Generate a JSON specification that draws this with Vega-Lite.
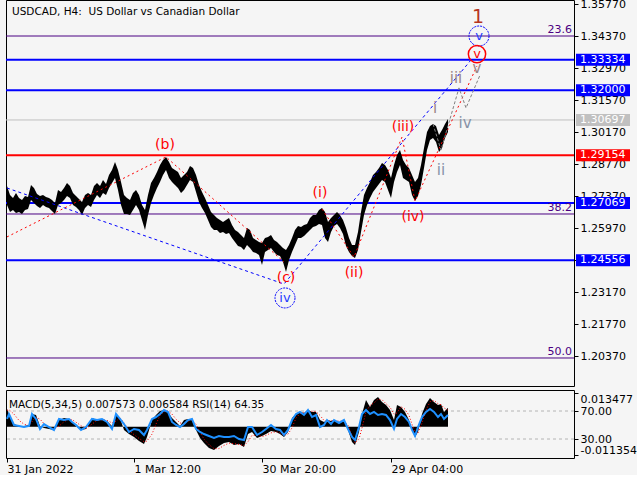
{
  "$schema": "https://vega.github.io/schema/vega-lite/v6.json",
  "background": "#f5f5f5",
  "padding": {"left": 2, "top": -3, "right": 0, "bottom": 0},
  "config": {
    "view": {"stroke": "black", "strokeWidth": 1},
    "font": "DejaVu Sans",
    "axis": {"labelFont": "DejaVu Sans", "labelFontSize": 11, "labelColor": "black", "tickColor": "black", "domainColor": "black", "grid": false, "title": null},
    "text": {"font": "DejaVu Sans"}
  },
  "spacing": 2,
  "resolve": {"scale": {"x": "shared", "y": "independent"}},
  "datasets": {
    "levels": [
      {"price": 1.3437, "kind": "fib", "label": "23.6"},
      {"price": 1.26583, "kind": "fib", "label": "38.2"},
      {"price": 1.20283, "kind": "fib", "label": "50.0"},
      {"price": 1.33334, "kind": "blue", "label": "1.33334"},
      {"price": 1.32, "kind": "blue", "label": "1.32000"},
      {"price": 1.27069, "kind": "blue", "label": "1.27069"},
      {"price": 1.24556, "kind": "blue", "label": "1.24556"},
      {"price": 1.29154, "kind": "red", "label": "1.29154"},
      {"price": 1.30697, "kind": "bid", "label": "1.30697"}
    ],
    "bars": [
      {"t":0,"hi":1.2781,"lo":1.2698},{"t":3,"hi":1.2741,"lo":1.2667},{"t":6,"hi":1.2728,"lo":1.2676},{"t":9,"hi":1.2750,"lo":1.2663},
      {"t":12,"hi":1.2728,"lo":1.2667},{"t":15,"hi":1.2720,"lo":1.2658},{"t":18,"hi":1.2737,"lo":1.2676},{"t":21,"hi":1.2733,"lo":1.2680},
      {"t":24,"hi":1.2785,"lo":1.2720},{"t":27,"hi":1.2772,"lo":1.2706},{"t":30,"hi":1.2746,"lo":1.2693},{"t":33,"hi":1.2737,"lo":1.2684},
      {"t":36,"hi":1.2741,"lo":1.2698},{"t":39,"hi":1.2733,"lo":1.2689},{"t":42,"hi":1.2728,"lo":1.2684},{"t":45,"hi":1.2720,"lo":1.2671},
      {"t":48,"hi":1.2706,"lo":1.2658},{"t":51,"hi":1.2763,"lo":1.2698},{"t":54,"hi":1.2755,"lo":1.2706},{"t":57,"hi":1.2772,"lo":1.2720},
      {"t":60,"hi":1.2794,"lo":1.2737},{"t":63,"hi":1.2781,"lo":1.2728},{"t":66,"hi":1.2750,"lo":1.2698},{"t":69,"hi":1.2737,"lo":1.2689},
      {"t":72,"hi":1.2724,"lo":1.2676},{"t":75,"hi":1.2711,"lo":1.2654},{"t":78,"hi":1.2741,"lo":1.2684},{"t":81,"hi":1.2750,"lo":1.2698},
      {"t":84,"hi":1.2741,"lo":1.2689},{"t":87,"hi":1.2781,"lo":1.2720},{"t":90,"hi":1.2794,"lo":1.2741},{"t":93,"hi":1.2781,"lo":1.2728},
      {"t":96,"hi":1.2807,"lo":1.2750},{"t":99,"hi":1.2790,"lo":1.2741},{"t":102,"hi":1.2829,"lo":1.2772},{"t":105,"hi":1.2851,"lo":1.2794},
      {"t":108,"hi":1.2886,"lo":1.2816},{"t":111,"hi":1.2851,"lo":1.2763},{"t":114,"hi":1.2798,"lo":1.2698},{"t":117,"hi":1.2741,"lo":1.2658},
      {"t":120,"hi":1.2728,"lo":1.2658},{"t":123,"hi":1.2720,"lo":1.2654},{"t":126,"hi":1.2750,"lo":1.2676},{"t":129,"hi":1.2763,"lo":1.2698},
      {"t":132,"hi":1.2741,"lo":1.2676},{"t":135,"hi":1.2698,"lo":1.2632},{"t":138,"hi":1.2676,"lo":1.2588},{"t":141,"hi":1.2741,"lo":1.2654},
      {"t":144,"hi":1.2794,"lo":1.2706},{"t":147,"hi":1.2816,"lo":1.2741},{"t":150,"hi":1.2842,"lo":1.2772},{"t":153,"hi":1.2873,"lo":1.2798},
      {"t":156,"hi":1.2895,"lo":1.2829},{"t":159,"hi":1.2908,"lo":1.2851},{"t":162,"hi":1.2886,"lo":1.2816},{"t":165,"hi":1.2860,"lo":1.2798},
      {"t":168,"hi":1.2851,"lo":1.2785},{"t":171,"hi":1.2842,"lo":1.2772},{"t":174,"hi":1.2816,"lo":1.2750},{"t":177,"hi":1.2829,"lo":1.2763},
      {"t":180,"hi":1.2842,"lo":1.2785},{"t":183,"hi":1.2868,"lo":1.2807},{"t":186,"hi":1.2860,"lo":1.2798},{"t":189,"hi":1.2829,"lo":1.2755},
      {"t":192,"hi":1.2785,"lo":1.2711},{"t":195,"hi":1.2755,"lo":1.2684},{"t":198,"hi":1.2728,"lo":1.2663},{"t":201,"hi":1.2698,"lo":1.2632},
      {"t":204,"hi":1.2667,"lo":1.2601},{"t":207,"hi":1.2654,"lo":1.2588},{"t":210,"hi":1.2641,"lo":1.2588},{"t":213,"hi":1.2632,"lo":1.2575},
      {"t":216,"hi":1.2623,"lo":1.2580},{"t":219,"hi":1.2632,"lo":1.2571},{"t":222,"hi":1.2641,"lo":1.2575},{"t":225,"hi":1.2610,"lo":1.2553},
      {"t":228,"hi":1.2588,"lo":1.2536},{"t":231,"hi":1.2580,"lo":1.2518},{"t":234,"hi":1.2566,"lo":1.2514},{"t":237,"hi":1.2553,"lo":1.2501},
      {"t":240,"hi":1.2597,"lo":1.2523},{"t":243,"hi":1.2588,"lo":1.2510},{"t":246,"hi":1.2553,"lo":1.2492},{"t":249,"hi":1.2545,"lo":1.2488},
      {"t":252,"hi":1.2536,"lo":1.2479},{"t":255,"hi":1.2531,"lo":1.2435},{"t":258,"hi":1.2553,"lo":1.2492},{"t":261,"hi":1.2558,"lo":1.2501},
      {"t":264,"hi":1.2566,"lo":1.2510},{"t":267,"hi":1.2545,"lo":1.2492},{"t":270,"hi":1.2536,"lo":1.2479},{"t":273,"hi":1.2523,"lo":1.2475},
      {"t":276,"hi":1.2510,"lo":1.2448},{"t":279,"hi":1.2501,"lo":1.2405},{"t":282,"hi":1.2523,"lo":1.2457},{"t":285,"hi":1.2553,"lo":1.2492},
      {"t":288,"hi":1.2588,"lo":1.2523},{"t":291,"hi":1.2606,"lo":1.2553},{"t":294,"hi":1.2601,"lo":1.2553},{"t":297,"hi":1.2610,"lo":1.2562},
      {"t":300,"hi":1.2614,"lo":1.2575},{"t":303,"hi":1.2641,"lo":1.2588},{"t":306,"hi":1.2654,"lo":1.2601},{"t":309,"hi":1.2654,"lo":1.2606},
      {"t":312,"hi":1.2676,"lo":1.2614},{"t":315,"hi":1.2684,"lo":1.2610},{"t":318,"hi":1.2667,"lo":1.2553},{"t":321,"hi":1.2623,"lo":1.2536},
      {"t":324,"hi":1.2641,"lo":1.2580},{"t":327,"hi":1.2654,"lo":1.2606},{"t":330,"hi":1.2667,"lo":1.2614},{"t":333,"hi":1.2654,"lo":1.2597},
      {"t":336,"hi":1.2632,"lo":1.2571},{"t":339,"hi":1.2597,"lo":1.2518},{"t":342,"hi":1.2553,"lo":1.2492},{"t":345,"hi":1.2523,"lo":1.2475},
      {"t":348,"hi":1.2523,"lo":1.2466},{"t":351,"hi":1.2580,"lo":1.2501},{"t":354,"hi":1.2667,"lo":1.2580},{"t":357,"hi":1.2741,"lo":1.2654},
      {"t":360,"hi":1.2772,"lo":1.2698},{"t":363,"hi":1.2798,"lo":1.2728},{"t":366,"hi":1.2829,"lo":1.2755},{"t":369,"hi":1.2842,"lo":1.2772},
      {"t":372,"hi":1.2860,"lo":1.2790},{"t":375,"hi":1.2881,"lo":1.2807},{"t":378,"hi":1.2873,"lo":1.2798},{"t":381,"hi":1.2851,"lo":1.2763},
      {"t":384,"hi":1.2816,"lo":1.2728},{"t":387,"hi":1.2873,"lo":1.2798},{"t":390,"hi":1.2916,"lo":1.2842},{"t":393,"hi":1.2938,"lo":1.2873},
      {"t":396,"hi":1.2895,"lo":1.2816},{"t":399,"hi":1.2873,"lo":1.2807},{"t":402,"hi":1.2860,"lo":1.2798},{"t":405,"hi":1.2829,"lo":1.2741},
      {"t":408,"hi":1.2798,"lo":1.2715},{"t":411,"hi":1.2816,"lo":1.2737},{"t":414,"hi":1.2873,"lo":1.2785},{"t":417,"hi":1.2947,"lo":1.2860},
      {"t":420,"hi":1.3017,"lo":1.2938},{"t":423,"hi":1.3043,"lo":1.2982},{"t":426,"hi":1.3052,"lo":1.2991},{"t":429,"hi":1.3043,"lo":1.2973},
      {"t":432,"hi":1.3004,"lo":1.2930},{"t":435,"hi":1.3026,"lo":1.2947},{"t":438,"hi":1.3052,"lo":1.2991},{"t":441,"hi":1.3074,"lo":1.3017}
    ],
    "waves": [
      {"w":"blue","t":0,"p":1.2772},{"w":"blue","t":277,"p":1.2352},{"w":"blue","t":464,"p":1.3332},
      {"w":"red1","t":0,"p":1.2558},{"w":"red1","t":159,"p":1.2908},{"w":"red1","t":277,"p":1.2448},
      {"w":"red2","t":315,"p":1.2680},{"w":"red2","t":347,"p":1.2470},{"w":"red2","t":395,"p":1.2995},{"w":"red2","t":408,"p":1.2715},{"w":"red2","t":470,"p":1.3306},
      {"w":"grey","t":426,"p":1.3052},{"w":"grey","t":434,"p":1.2938},{"w":"grey","t":452,"p":1.3210},{"w":"grey","t":459,"p":1.3122},{"w":"grey","t":473,"p":1.3266}
    ],
    "labels": [
      {"kind":"red","t":158,"p":1.2960,"txt":"(b)"},
      {"kind":"red","t":279,"p":1.2378,"txt":"(c)"},
      {"kind":"red","t":313,"p":1.2750,"txt":"(i)"},
      {"kind":"red","t":347,"p":1.2400,"txt":"(ii)"},
      {"kind":"red","t":396,"p":1.3039,"txt":"(iii)"},
      {"kind":"red","t":406,"p":1.2645,"txt":"(iv)"},
      {"kind":"redc","t":470,"p":1.3358,"txt":"v"},
      {"kind":"bluec","t":472,"p":1.3437,"txt":"v"},
      {"kind":"bluec","t":278,"p":1.2291,"txt":"iv"},
      {"kind":"mauve","t":428,"p":1.3122,"txt":"i"},
      {"kind":"mauve","t":449,"p":1.3253,"txt":"iii"},
      {"kind":"mauve","t":470,"p":1.3298,"txt":"v"},
      {"kind":"slate","t":458,"p":1.3056,"txt":"iv"},
      {"kind":"slate","t":434,"p":1.2851,"txt":"ii"},
      {"kind":"one","t":471,"p":1.3520,"txt":"1"}
    ],
    "circles": [
      {"t":472,"p":1.3437,"c":"blue"},
      {"t":278,"p":1.2291,"c":"blue"},
      {"t":470,"p":1.3358,"c":"red"}
    ],
    "ind": [
      {"t":0,"rsi":58.6,"macd":0.00705,"sig":0.0065},{"t":2,"rsi":65.7,"macd":0.00505,"sig":0.0068},{"t":7,"rsi":50.0,"macd":0.00104,"sig":0.0050},
      {"t":12,"rsi":48.6,"macd":0.00024,"sig":0.0025},{"t":17,"rsi":47.1,"macd":0.00024,"sig":0.0010},{"t":22,"rsi":48.6,"macd":0.00064,"sig":0.0004},
      {"t":25,"rsi":65.7,"macd":0.00505,"sig":0.0020},{"t":29,"rsi":58.6,"macd":0.00465,"sig":0.0038},{"t":33,"rsi":44.3,"macd":0.00024,"sig":0.0030},
      {"t":37,"rsi":51.4,"macd":-0.00056,"sig":0.0012},{"t":42,"rsi":47.1,"macd":-0.00096,"sig":-0.0002},{"t":47,"rsi":42.9,"macd":-0.00136,"sig":-0.0010},
      {"t":52,"rsi":58.6,"macd":0.00264,"sig":0.0002},{"t":57,"rsi":57.1,"macd":0.00344,"sig":0.0020},{"t":62,"rsi":58.6,"macd":0.00304,"sig":0.0030},
      {"t":65,"rsi":54.3,"macd":0.00184,"sig":0.0028},{"t":69,"rsi":50.0,"macd":0.00024,"sig":0.0018},{"t":74,"rsi":42.9,"macd":-0.00136,"sig":0.0004},
      {"t":79,"rsi":47.1,"macd":-0.00096,"sig":-0.0008},{"t":85,"rsi":58.6,"macd":0.00344,"sig":0.0010},{"t":90,"rsi":57.1,"macd":0.00264,"sig":0.0025},
      {"t":95,"rsi":58.6,"macd":0.00264,"sig":0.0028},{"t":100,"rsi":54.3,"macd":0.00224,"sig":0.0025},{"t":105,"rsi":44.3,"macd":0.00024,"sig":0.0015},
      {"t":109,"rsi":65.7,"macd":0.00465,"sig":0.0022},{"t":113,"rsi":58.6,"macd":0.00344,"sig":0.0035},{"t":117,"rsi":51.4,"macd":-0.00136,"sig":0.0015},
      {"t":122,"rsi":40.0,"macd":-0.00296,"sig":-0.0015},{"t":127,"rsi":44.3,"macd":-0.00417,"sig":-0.0032},{"t":132,"rsi":42.9,"macd":-0.00577,"sig":-0.0047},
      {"t":137,"rsi":35.7,"macd":-0.00697,"sig":-0.0060},{"t":140,"rsi":42.9,"macd":-0.00417,"sig":-0.0058},{"t":145,"rsi":58.6,"macd":0.00264,"sig":-0.0030},
      {"t":149,"rsi":61.4,"macd":0.00465,"sig":0.0010},{"t":153,"rsi":65.7,"macd":0.00625,"sig":0.0045},{"t":157,"rsi":71.4,"macd":0.00665,"sig":0.0060},
      {"t":161,"rsi":68.6,"macd":0.00585,"sig":0.0063},{"t":165,"rsi":54.3,"macd":0.00344,"sig":0.0050},{"t":169,"rsi":50.0,"macd":0.00184,"sig":0.0030},
      {"t":173,"rsi":47.1,"macd":0.00024,"sig":0.0015},{"t":177,"rsi":51.4,"macd":0.00264,"sig":0.0012},{"t":181,"rsi":57.1,"macd":0.00304,"sig":0.0022},
      {"t":185,"rsi":58.6,"macd":0.00264,"sig":0.0027},{"t":189,"rsi":44.3,"macd":-0.00136,"sig":0.0010},{"t":193,"rsi":40.0,"macd":-0.00457,"sig":-0.0022},
      {"t":197,"rsi":37.1,"macd":-0.00657,"sig":-0.0050},{"t":202,"rsi":34.3,"macd":-0.00857,"sig":-0.0072},{"t":207,"rsi":31.4,"macd":-0.00937,"sig":-0.0088},
      {"t":212,"rsi":34.3,"macd":-0.00777,"sig":-0.0088},{"t":217,"rsi":32.9,"macd":-0.00657,"sig":-0.0075},{"t":222,"rsi":32.9,"macd":-0.00617,"sig":-0.0066},
      {"t":227,"rsi":34.3,"macd":-0.00737,"sig":-0.0068},{"t":232,"rsi":30.0,"macd":-0.00697,"sig":-0.0071},{"t":237,"rsi":28.6,"macd":-0.00817,"sig":-0.0076},
      {"t":241,"rsi":47.1,"macd":-0.00296,"sig":-0.0060},{"t":245,"rsi":47.1,"macd":-0.00216,"sig":-0.0035},{"t":250,"rsi":35.7,"macd":-0.00457,"sig":-0.0035},
      {"t":255,"rsi":40.0,"macd":-0.00376,"sig":-0.0040},{"t":259,"rsi":44.3,"macd":-0.00296,"sig":-0.0035},{"t":264,"rsi":50.0,"macd":-0.00176,"sig":-0.0025},
      {"t":269,"rsi":44.3,"macd":-0.00216,"sig":-0.0020},{"t":273,"rsi":42.9,"macd":-0.00296,"sig":-0.0025},{"t":277,"rsi":35.7,"macd":-0.00417,"sig":-0.0034},
      {"t":281,"rsi":42.9,"macd":-0.00216,"sig":-0.0030},{"t":285,"rsi":57.1,"macd":0.00344,"sig":-0.0005},{"t":289,"rsi":65.7,"macd":0.00505,"sig":0.0035},
      {"t":293,"rsi":68.6,"macd":0.00585,"sig":0.0052},{"t":297,"rsi":64.3,"macd":0.00545,"sig":0.0056},{"t":301,"rsi":71.4,"macd":0.00665,"sig":0.0060},
      {"t":305,"rsi":61.4,"macd":0.00585,"sig":0.0062},{"t":309,"rsi":64.3,"macd":0.00585,"sig":0.0060},{"t":313,"rsi":47.1,"macd":0.00264,"sig":0.0045},
      {"t":317,"rsi":50.0,"macd":0.00184,"sig":0.0025},{"t":320,"rsi":57.1,"macd":0.00264,"sig":0.0022},{"t":324,"rsi":51.4,"macd":0.00224,"sig":0.0024},
      {"t":327,"rsi":57.1,"macd":0.00264,"sig":0.0024},{"t":332,"rsi":52.9,"macd":0.00184,"sig":0.0022},{"t":337,"rsi":57.1,"macd":0.00264,"sig":0.0022},
      {"t":341,"rsi":44.3,"macd":-0.00136,"sig":0.0005},{"t":345,"rsi":32.9,"macd":-0.00617,"sig":-0.0035},{"t":348,"rsi":28.6,"macd":-0.00737,"sig":-0.0065},
      {"t":352,"rsi":47.1,"macd":-0.00216,"sig":-0.0050},{"t":355,"rsi":65.7,"macd":0.00505,"sig":-0.0005},{"t":359,"rsi":71.4,"macd":0.01065,"sig":0.0060},
      {"t":363,"rsi":65.7,"macd":0.00785,"sig":0.0085},{"t":367,"rsi":68.6,"macd":0.01065,"sig":0.0095},{"t":371,"rsi":64.3,"macd":0.01185,"sig":0.0110},
      {"t":375,"rsi":65.7,"macd":0.00985,"sig":0.0108},{"t":379,"rsi":64.3,"macd":0.00865,"sig":0.0092},{"t":383,"rsi":57.1,"macd":0.00665,"sig":0.0078},
      {"t":387,"rsi":44.3,"macd":0.00264,"sig":0.0050},{"t":390,"rsi":58.6,"macd":0.00865,"sig":0.0055},{"t":394,"rsi":65.7,"macd":0.00785,"sig":0.0080},
      {"t":398,"rsi":61.4,"macd":0.00585,"sig":0.0070},{"t":402,"rsi":54.3,"macd":0.00264,"sig":0.0045},{"t":405,"rsi":42.9,"macd":-0.00136,"sig":0.0010},
      {"t":408,"rsi":34.3,"macd":-0.00417,"sig":-0.0025},{"t":411,"rsi":47.1,"macd":-0.00216,"sig":-0.0025},{"t":415,"rsi":61.4,"macd":0.00505,"sig":0.0015},
      {"t":419,"rsi":68.6,"macd":0.00905,"sig":0.0065},{"t":423,"rsi":72.9,"macd":0.01145,"sig":0.0100},{"t":427,"rsi":68.6,"macd":0.00985,"sig":0.0105},
      {"t":431,"rsi":61.4,"macd":0.00865,"sig":0.0092},{"t":434,"rsi":65.7,"macd":0.00905,"sig":0.0088},{"t":437,"rsi":58.6,"macd":0.00585,"sig":0.0075},
      {"t":441,"rsi":64.35,"macd":0.007573,"sig":0.006584}
    ]
  },
  "vconcat": [
    {
      "width": 568,
      "height": 386,
      "layer": [
        {
          "data": {"name": "levels"},
          "transform": [{"filter": "datum.kind == 'fib'"}],
          "mark": {"type": "rule", "color": "#4b0082", "strokeWidth": 1},
          "encoding": {
            "y": {"field": "price", "type": "quantitative", "scale": {"domain": [1.19058, 1.35945], "nice": false, "zero": false},
              "axis": {"orient": "right", "values": [1.3577, 1.3437, 1.3297, 1.3157, 1.3017, 1.2877, 1.2737, 1.2597, 1.2457, 1.2317, 1.2177, 1.2037], "format": ".5f", "tickSize": 4, "labelPadding": 2, "domain": false, "labelOverlap": false, "labelFlush": false, "labelBound": false}}
          }
        },
        {
          "data": {"name": "levels"},
          "transform": [{"filter": "datum.kind == 'bid'"}],
          "mark": {"type": "rule", "color": "#c0c0c0", "strokeWidth": 1},
          "encoding": {
            "y": {"field": "price", "type": "quantitative", "scale": {"domain": [1.19058, 1.35945], "nice": false, "zero": false},
              "axis": {"orient": "right", "values": [1.3577, 1.3437, 1.3297, 1.3157, 1.3017, 1.2877, 1.2737, 1.2597, 1.2457, 1.2317, 1.2177, 1.2037], "format": ".5f", "tickSize": 4, "labelPadding": 2, "domain": false, "labelOverlap": false, "labelFlush": false, "labelBound": false}}
          }
        },
        {
          "data": {"name": "levels"},
          "transform": [{"filter": "datum.kind == 'blue'"}],
          "mark": {"type": "rule", "color": "#0000ff", "strokeWidth": 2},
          "encoding": {
            "y": {"field": "price", "type": "quantitative", "scale": {"domain": [1.19058, 1.35945], "nice": false, "zero": false},
              "axis": {"orient": "right", "values": [1.3577, 1.3437, 1.3297, 1.3157, 1.3017, 1.2877, 1.2737, 1.2597, 1.2457, 1.2317, 1.2177, 1.2037], "format": ".5f", "tickSize": 4, "labelPadding": 2, "domain": false, "labelOverlap": false, "labelFlush": false, "labelBound": false}}
          }
        },
        {
          "data": {"name": "levels"},
          "transform": [{"filter": "datum.kind == 'red'"}],
          "mark": {"type": "rule", "color": "#ff0000", "strokeWidth": 2},
          "encoding": {
            "y": {"field": "price", "type": "quantitative", "scale": {"domain": [1.19058, 1.35945], "nice": false, "zero": false},
              "axis": {"orient": "right", "values": [1.3577, 1.3437, 1.3297, 1.3157, 1.3017, 1.2877, 1.2737, 1.2597, 1.2457, 1.2317, 1.2177, 1.2037], "format": ".5f", "tickSize": 4, "labelPadding": 2, "domain": false, "labelOverlap": false, "labelFlush": false, "labelBound": false}}
          }
        },
        {
          "data": {"name": "bars"},
          "mark": {"type": "area", "color": "black", "strokeWidth": 0},
          "encoding": {
            "x": {"field": "t", "type": "quantitative", "scale": {"domain": [-1, 567], "nice": false, "zero": false}, "axis": null},
            "y": {"field": "lo", "type": "quantitative", "scale": {"domain": [1.19058, 1.35945], "nice": false, "zero": false},
              "axis": {"orient": "right", "values": [1.3577, 1.3437, 1.3297, 1.3157, 1.3017, 1.2877, 1.2737, 1.2597, 1.2457, 1.2317, 1.2177, 1.2037], "format": ".5f", "tickSize": 4, "labelPadding": 2, "domain": false, "labelOverlap": false, "labelFlush": false, "labelBound": false}},
            "y2": {"field": "hi"}
          }
        },
        {
          "data": {"name": "waves"},
          "transform": [{"filter": "datum.w == 'blue'"}],
          "mark": {"type": "line", "color": "#0000ff", "strokeWidth": 1, "strokeDash": [3, 3]},
          "encoding": {
            "x": {"field": "t", "type": "quantitative", "scale": {"domain": [-1, 567], "nice": false, "zero": false}, "axis": null},
            "y": {"field": "p", "type": "quantitative", "scale": {"domain": [1.19058, 1.35945], "nice": false, "zero": false},
              "axis": {"orient": "right", "values": [1.3577, 1.3437, 1.3297, 1.3157, 1.3017, 1.2877, 1.2737, 1.2597, 1.2457, 1.2317, 1.2177, 1.2037], "format": ".5f", "tickSize": 4, "labelPadding": 2, "domain": false, "labelOverlap": false, "labelFlush": false, "labelBound": false}}
          }
        },
        {
          "data": {"name": "waves"},
          "transform": [{"filter": "datum.w == 'red1' || datum.w == 'red2'"}],
          "mark": {"type": "line", "color": "#ff0000", "strokeWidth": 1, "strokeDash": [2, 3]},
          "encoding": {
            "x": {"field": "t", "type": "quantitative", "scale": {"domain": [-1, 567], "nice": false, "zero": false}, "axis": null},
            "y": {"field": "p", "type": "quantitative", "scale": {"domain": [1.19058, 1.35945], "nice": false, "zero": false},
              "axis": {"orient": "right", "values": [1.3577, 1.3437, 1.3297, 1.3157, 1.3017, 1.2877, 1.2737, 1.2597, 1.2457, 1.2317, 1.2177, 1.2037], "format": ".5f", "tickSize": 4, "labelPadding": 2, "domain": false, "labelOverlap": false, "labelFlush": false, "labelBound": false}},
            "detail": {"field": "w"}
          }
        },
        {
          "data": {"name": "waves"},
          "transform": [{"filter": "datum.w == 'grey'"}],
          "mark": {"type": "line", "color": "#808080", "strokeWidth": 1, "strokeDash": [3, 2]},
          "encoding": {
            "x": {"field": "t", "type": "quantitative", "scale": {"domain": [-1, 567], "nice": false, "zero": false}, "axis": null},
            "y": {"field": "p", "type": "quantitative", "scale": {"domain": [1.19058, 1.35945], "nice": false, "zero": false},
              "axis": {"orient": "right", "values": [1.3577, 1.3437, 1.3297, 1.3157, 1.3017, 1.2877, 1.2737, 1.2597, 1.2457, 1.2317, 1.2177, 1.2037], "format": ".5f", "tickSize": 4, "labelPadding": 2, "domain": false, "labelOverlap": false, "labelFlush": false, "labelBound": false}}
          }
        },
        {
          "data": {"name": "circles"},
          "transform": [{"filter": "datum.c == 'blue'"}],
          "mark": {"type": "point", "shape": "circle", "filled": false, "color": "#0000ff", "strokeWidth": 1, "strokeDash": [2, 1], "size": 400, "opacity": 1},
          "encoding": {
            "x": {"field": "t", "type": "quantitative", "scale": {"domain": [-1, 567], "nice": false, "zero": false}, "axis": null},
            "y": {"field": "p", "type": "quantitative", "scale": {"domain": [1.19058, 1.35945], "nice": false, "zero": false},
              "axis": {"orient": "right", "values": [1.3577, 1.3437, 1.3297, 1.3157, 1.3017, 1.2877, 1.2737, 1.2597, 1.2457, 1.2317, 1.2177, 1.2037], "format": ".5f", "tickSize": 4, "labelPadding": 2, "domain": false, "labelOverlap": false, "labelFlush": false, "labelBound": false}}
          }
        },
        {
          "data": {"name": "circles"},
          "transform": [{"filter": "datum.c == 'red'"}],
          "mark": {"type": "point", "shape": "circle", "filled": false, "color": "#ff0000", "strokeWidth": 1.5, "size": 300, "opacity": 1},
          "encoding": {
            "x": {"field": "t", "type": "quantitative", "scale": {"domain": [-1, 567], "nice": false, "zero": false}, "axis": null},
            "y": {"field": "p", "type": "quantitative", "scale": {"domain": [1.19058, 1.35945], "nice": false, "zero": false},
              "axis": {"orient": "right", "values": [1.3577, 1.3437, 1.3297, 1.3157, 1.3017, 1.2877, 1.2737, 1.2597, 1.2457, 1.2317, 1.2177, 1.2037], "format": ".5f", "tickSize": 4, "labelPadding": 2, "domain": false, "labelOverlap": false, "labelFlush": false, "labelBound": false}}
          }
        },
        {
          "data": {"name": "labels"},
          "transform": [{"filter": "datum.kind == 'red'"}],
          "mark": {"type": "text", "align": "center", "baseline": "middle", "color": "#ff0000", "fontSize": 14},
          "encoding": {
            "x": {"field": "t", "type": "quantitative", "scale": {"domain": [-1, 567], "nice": false, "zero": false}, "axis": null},
            "y": {"field": "p", "type": "quantitative", "scale": {"domain": [1.19058, 1.35945], "nice": false, "zero": false},
              "axis": {"orient": "right", "values": [1.3577, 1.3437, 1.3297, 1.3157, 1.3017, 1.2877, 1.2737, 1.2597, 1.2457, 1.2317, 1.2177, 1.2037], "format": ".5f", "tickSize": 4, "labelPadding": 2, "domain": false, "labelOverlap": false, "labelFlush": false, "labelBound": false}},
            "text": {"field": "txt"}
          }
        },
        {
          "data": {"name": "labels"},
          "transform": [{"filter": "datum.kind == 'redc'"}],
          "mark": {"type": "text", "align": "center", "baseline": "middle", "color": "#ff0000", "fontSize": 13},
          "encoding": {
            "x": {"field": "t", "type": "quantitative", "scale": {"domain": [-1, 567], "nice": false, "zero": false}, "axis": null},
            "y": {"field": "p", "type": "quantitative", "scale": {"domain": [1.19058, 1.35945], "nice": false, "zero": false},
              "axis": {"orient": "right", "values": [1.3577, 1.3437, 1.3297, 1.3157, 1.3017, 1.2877, 1.2737, 1.2597, 1.2457, 1.2317, 1.2177, 1.2037], "format": ".5f", "tickSize": 4, "labelPadding": 2, "domain": false, "labelOverlap": false, "labelFlush": false, "labelBound": false}},
            "text": {"field": "txt"}
          }
        },
        {
          "data": {"name": "labels"},
          "transform": [{"filter": "datum.kind == 'bluec'"}],
          "mark": {"type": "text", "align": "center", "baseline": "middle", "color": "#1e3cff", "fontSize": 13},
          "encoding": {
            "x": {"field": "t", "type": "quantitative", "scale": {"domain": [-1, 567], "nice": false, "zero": false}, "axis": null},
            "y": {"field": "p", "type": "quantitative", "scale": {"domain": [1.19058, 1.35945], "nice": false, "zero": false},
              "axis": {"orient": "right", "values": [1.3577, 1.3437, 1.3297, 1.3157, 1.3017, 1.2877, 1.2737, 1.2597, 1.2457, 1.2317, 1.2177, 1.2037], "format": ".5f", "tickSize": 4, "labelPadding": 2, "domain": false, "labelOverlap": false, "labelFlush": false, "labelBound": false}},
            "text": {"field": "txt"}
          }
        },
        {
          "data": {"name": "labels"},
          "transform": [{"filter": "datum.kind == 'mauve'"}],
          "mark": {"type": "text", "align": "center", "baseline": "middle", "color": "#9c8686", "fontSize": 15},
          "encoding": {
            "x": {"field": "t", "type": "quantitative", "scale": {"domain": [-1, 567], "nice": false, "zero": false}, "axis": null},
            "y": {"field": "p", "type": "quantitative", "scale": {"domain": [1.19058, 1.35945], "nice": false, "zero": false},
              "axis": {"orient": "right", "values": [1.3577, 1.3437, 1.3297, 1.3157, 1.3017, 1.2877, 1.2737, 1.2597, 1.2457, 1.2317, 1.2177, 1.2037], "format": ".5f", "tickSize": 4, "labelPadding": 2, "domain": false, "labelOverlap": false, "labelFlush": false, "labelBound": false}},
            "text": {"field": "txt"}
          }
        },
        {
          "data": {"name": "labels"},
          "transform": [{"filter": "datum.kind == 'slate'"}],
          "mark": {"type": "text", "align": "center", "baseline": "middle", "color": "#8893a8", "fontSize": 15},
          "encoding": {
            "x": {"field": "t", "type": "quantitative", "scale": {"domain": [-1, 567], "nice": false, "zero": false}, "axis": null},
            "y": {"field": "p", "type": "quantitative", "scale": {"domain": [1.19058, 1.35945], "nice": false, "zero": false},
              "axis": {"orient": "right", "values": [1.3577, 1.3437, 1.3297, 1.3157, 1.3017, 1.2877, 1.2737, 1.2597, 1.2457, 1.2317, 1.2177, 1.2037], "format": ".5f", "tickSize": 4, "labelPadding": 2, "domain": false, "labelOverlap": false, "labelFlush": false, "labelBound": false}},
            "text": {"field": "txt"}
          }
        },
        {
          "data": {"name": "labels"},
          "transform": [{"filter": "datum.kind == 'one'"}],
          "mark": {"type": "text", "align": "center", "baseline": "middle", "color": "#b5341f", "fontSize": 19},
          "encoding": {
            "x": {"field": "t", "type": "quantitative", "scale": {"domain": [-1, 567], "nice": false, "zero": false}, "axis": null},
            "y": {"field": "p", "type": "quantitative", "scale": {"domain": [1.19058, 1.35945], "nice": false, "zero": false},
              "axis": {"orient": "right", "values": [1.3577, 1.3437, 1.3297, 1.3157, 1.3017, 1.2877, 1.2737, 1.2597, 1.2457, 1.2317, 1.2177, 1.2037], "format": ".5f", "tickSize": 4, "labelPadding": 2, "domain": false, "labelOverlap": false, "labelFlush": false, "labelBound": false}},
            "text": {"field": "txt"}
          }
        },
        {
          "data": {"name": "levels"},
          "transform": [{"filter": "datum.kind == 'fib'"}],
          "mark": {"type": "text", "align": "right", "baseline": "bottom", "dy": -1, "color": "#4b0082", "fontSize": 11},
          "encoding": {
            "x": {"datum": 565, "type": "quantitative", "scale": {"domain": [-1, 567], "nice": false, "zero": false}, "axis": null},
            "y": {"field": "price", "type": "quantitative", "scale": {"domain": [1.19058, 1.35945], "nice": false, "zero": false},
              "axis": {"orient": "right", "values": [1.3577, 1.3437, 1.3297, 1.3157, 1.3017, 1.2877, 1.2737, 1.2597, 1.2457, 1.2317, 1.2177, 1.2037], "format": ".5f", "tickSize": 4, "labelPadding": 2, "domain": false, "labelOverlap": false, "labelFlush": false, "labelBound": false}},
            "text": {"field": "label"}
          }
        },
        {
          "data": {"name": "levels"},
          "transform": [{"filter": "datum.kind != 'fib'"}],
          "mark": {"type": "tick", "orient": "horizontal", "size": 54, "thickness": 12, "opacity": 1},
          "encoding": {
            "x": {"datum": 596, "type": "quantitative", "scale": {"domain": [-1, 567], "nice": false, "zero": false}, "axis": null},
            "y": {"field": "price", "type": "quantitative", "scale": {"domain": [1.19058, 1.35945], "nice": false, "zero": false},
              "axis": {"orient": "right", "values": [1.3577, 1.3437, 1.3297, 1.3157, 1.3017, 1.2877, 1.2737, 1.2597, 1.2457, 1.2317, 1.2177, 1.2037], "format": ".5f", "tickSize": 4, "labelPadding": 2, "domain": false, "labelOverlap": false, "labelFlush": false, "labelBound": false}},
            "color": {"field": "kind", "type": "nominal", "scale": {"domain": ["blue", "red", "bid"], "range": ["#0000ff", "#ff0000", "#c0c0c0"]}, "legend": null}
          }
        },
        {
          "data": {"name": "levels"},
          "transform": [{"filter": "datum.kind != 'fib'"}],
          "mark": {"type": "text", "align": "left", "baseline": "middle", "color": "white", "fontSize": 11},
          "encoding": {
            "x": {"datum": 573, "type": "quantitative", "scale": {"domain": [-1, 567], "nice": false, "zero": false}, "axis": null},
            "y": {"field": "price", "type": "quantitative", "scale": {"domain": [1.19058, 1.35945], "nice": false, "zero": false},
              "axis": {"orient": "right", "values": [1.3577, 1.3437, 1.3297, 1.3157, 1.3017, 1.2877, 1.2737, 1.2597, 1.2457, 1.2317, 1.2177, 1.2037], "format": ".5f", "tickSize": 4, "labelPadding": 2, "domain": false, "labelOverlap": false, "labelFlush": false, "labelBound": false}},
            "text": {"field": "label"}
          }
        },
        {
          "data": {"values": [{"txt": "USDCAD, H4:\u00a0 US Dollar vs Canadian Dollar", "t": 5, "p": 1.3542}]},
          "mark": {"type": "text", "align": "left", "baseline": "middle", "color": "black", "fontSize": 10.5},
          "encoding": {
            "x": {"field": "t", "type": "quantitative", "scale": {"domain": [-1, 567], "nice": false, "zero": false}, "axis": null},
            "y": {"field": "p", "type": "quantitative", "scale": {"domain": [1.19058, 1.35945], "nice": false, "zero": false},
              "axis": {"orient": "right", "values": [1.3577, 1.3437, 1.3297, 1.3157, 1.3017, 1.2877, 1.2737, 1.2597, 1.2457, 1.2317, 1.2177, 1.2037], "format": ".5f", "tickSize": 4, "labelPadding": 2, "domain": false, "labelOverlap": false, "labelFlush": false, "labelBound": false}},
            "text": {"field": "txt"}
          }
        }
      ]
    },
    {
      "width": 568,
      "height": 68,
      "resolve": {"scale": {"y": "independent"}},
      "layer": [
        {
          "data": {"values": [{"lvl": 70}, {"lvl": 30}]},
          "mark": {"type": "rule", "color": "#b4b4b4", "strokeDash": [3, 3], "strokeWidth": 1},
          "encoding": {
            "y": {"field": "lvl", "type": "quantitative", "scale": {"domain": [2.86, 100], "nice": false, "zero": false},
              "axis": {"orient": "right", "values": [95.71, 70, 30, 7.14], "labelExpr": "datum.value > 90 ? '0.013477' : (datum.value < 10 ? '-0.011354' : format(datum.value, '.2f'))", "tickSize": 4, "labelPadding": 2, "domain": false, "labelFlush": 4, "labelOverlap": false}}
          }
        },
        {
          "data": {"name": "ind"},
          "mark": {"type": "area", "color": "black"},
          "encoding": {
            "x": {"field": "t", "type": "quantitative", "scale": {"domain": [-1, 567], "nice": false, "zero": false},
              "axis": {"orient": "bottom", "values": [0, 127, 255, 384], "labelExpr": "datum.value == 0 ? '31 Jan 2022' : (datum.value == 127 ? '1 Mar 12:00' : (datum.value == 255 ? '30 Mar 20:00' : '29 Apr 04:00'))", "labelAlign": "left", "tickSize": 4, "labelPadding": 1, "domain": false, "labelFlush": false, "labelOverlap": false, "labelBound": false}},
            "y": {"field": "macd", "type": "quantitative", "scale": {"domain": [-0.012556, 0.014679], "nice": false, "zero": false}, "axis": null},
            "y2": {"datum": 0}
          }
        },
        {
          "data": {"name": "ind"},
          "mark": {"type": "line", "color": "#ff0000", "strokeWidth": 1, "strokeDash": [1, 2]},
          "encoding": {
            "x": {"field": "t", "type": "quantitative", "scale": {"domain": [-1, 567], "nice": false, "zero": false},
              "axis": {"orient": "bottom", "values": [0, 127, 255, 384], "labelExpr": "datum.value == 0 ? '31 Jan 2022' : (datum.value == 127 ? '1 Mar 12:00' : (datum.value == 255 ? '30 Mar 20:00' : '29 Apr 04:00'))", "labelAlign": "left", "tickSize": 4, "labelPadding": 1, "domain": false, "labelFlush": false, "labelOverlap": false, "labelBound": false}},
            "y": {"field": "sig", "type": "quantitative", "scale": {"domain": [-0.012556, 0.014679], "nice": false, "zero": false}, "axis": null}
          }
        },
        {
          "data": {"name": "ind"},
          "mark": {"type": "line", "color": "#1e90ff", "strokeWidth": 2},
          "encoding": {
            "x": {"field": "t", "type": "quantitative", "scale": {"domain": [-1, 567], "nice": false, "zero": false},
              "axis": {"orient": "bottom", "values": [0, 127, 255, 384], "labelExpr": "datum.value == 0 ? '31 Jan 2022' : (datum.value == 127 ? '1 Mar 12:00' : (datum.value == 255 ? '30 Mar 20:00' : '29 Apr 04:00'))", "labelAlign": "left", "tickSize": 4, "labelPadding": 1, "domain": false, "labelFlush": false, "labelOverlap": false, "labelBound": false}},
            "y": {"field": "rsi", "type": "quantitative", "scale": {"domain": [2.86, 100], "nice": false, "zero": false}, "axis": null}
          }
        },
        {
          "data": {"values": [{"txt": "MACD(5,34,5) 0.007573 0.006584 RSI(14) 64.35", "t": 2, "v": 78.6}]},
          "mark": {"type": "text", "align": "left", "baseline": "middle", "color": "black", "fontSize": 10.5},
          "encoding": {
            "x": {"field": "t", "type": "quantitative", "scale": {"domain": [-1, 567], "nice": false, "zero": false},
              "axis": {"orient": "bottom", "values": [0, 127, 255, 384], "labelExpr": "datum.value == 0 ? '31 Jan 2022' : (datum.value == 127 ? '1 Mar 12:00' : (datum.value == 255 ? '30 Mar 20:00' : '29 Apr 04:00'))", "labelAlign": "left", "tickSize": 4, "labelPadding": 1, "domain": false, "labelFlush": false, "labelOverlap": false, "labelBound": false}},
            "y": {"field": "v", "type": "quantitative", "scale": {"domain": [2.86, 100], "nice": false, "zero": false}, "axis": null},
            "text": {"field": "txt"}
          }
        }
      ]
    }
  ]
}
